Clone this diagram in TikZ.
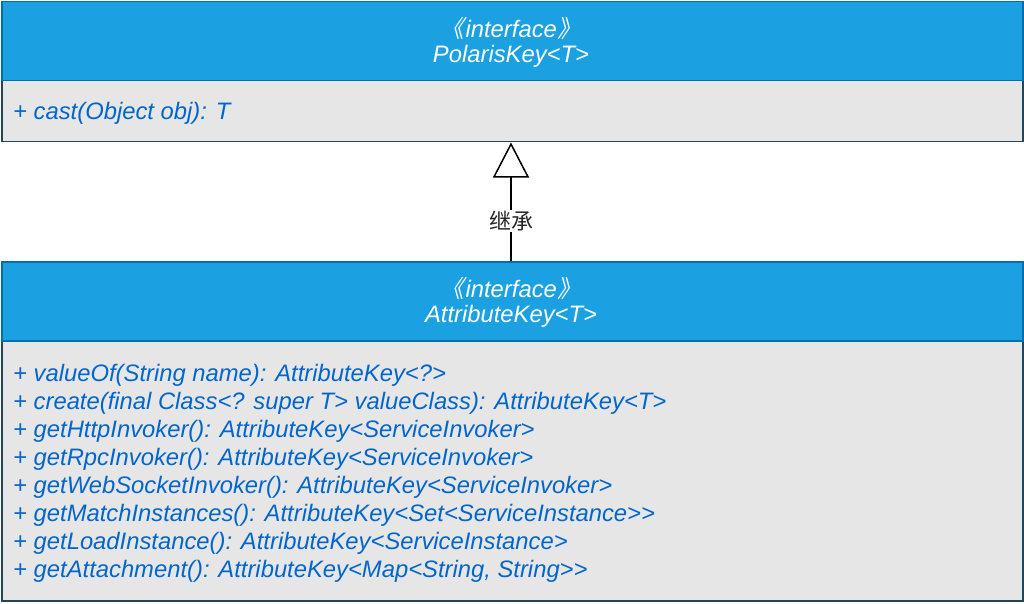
\documentclass[tikz,border=0pt]{standalone}
\usepackage{fontspec}
\setmainfont{Liberation Sans}
\newfontfamily\cjk{Noto Sans CJK SC}
\newfontfamily\cjkit[FakeSlant=0.2]{Noto Sans CJK SC}
\usetikzlibrary{arrows.meta}
\definecolor{hdrfill}{HTML}{1BA1E2}
\definecolor{hdrline}{HTML}{006EAF}
\definecolor{bodyfill}{HTML}{E6E6E6}
\definecolor{bodyline}{HTML}{23445D}
\definecolor{mcol}{HTML}{0066CC}
\tikzset{
  hdr/.style={draw=hdrline, fill=hdrfill, line width=1.5pt, inner sep=0pt, anchor=north west, minimum width=1021pt},
  body/.style={draw=bodyline, fill=bodyfill, line width=1.5pt, inner sep=0pt, anchor=north west, minimum width=1021pt},
  htext/.style={text=white, font=\itshape\fontsize{23.8}{28}\selectfont, inner sep=0pt},
  mtext/.style={text=mcol, font=\itshape\fontsize{23.8}{28}\selectfont, inner sep=0pt, anchor=base west},
  lbl/.style={fill=white, font=\cjk\fontsize{22}{26}\selectfont, inner sep=1pt, text=black!85},
  inherit/.style={line width=1.5pt, -{Triangle[open, length=35pt, width=36pt, line width=1.5pt]}}
}
\begin{document}
\begin{tikzpicture}[x=1pt,y=-1pt]
\useasboundingbox (0,0) rectangle (1024,604);
% top class
\node[body, minimum height=61pt] (pb) at (1,80) {};
\node[hdr, minimum height=79pt] (ph) at (1,1) {};
\node[htext] (pst) at (511,28) {{\cjkit 《}\kern1.5pt interface\kern1pt{\cjkit 》}};
\node[htext] (pname) at (511,56) {PolarisKey<T>};
\node[mtext] (pm1) at (13,120) {+ cast(Object obj): T};
% bottom class
\node[body, minimum height=260pt] (ab) at (1,340) {};
\node[hdr, minimum height=79pt] (ah) at (1,261) {};
\node[htext] (ast) at (511,288) {{\cjkit 《}\kern1.5pt interface\kern1pt{\cjkit 》}};
\node[htext] (aname) at (511,316) {AttributeKey<T>};
\node[mtext] (am1) at (13,381) {+ valueOf(String name): AttributeKey<?>};
\node[mtext] (am2) at (13,409) {+ create(final Class<? super T> valueClass): AttributeKey<T>};
\node[mtext] (am3) at (13,437) {+ getHttpInvoker(): AttributeKey<ServiceInvoker>};
\node[mtext] (am4) at (13,465) {+ getRpcInvoker(): AttributeKey<ServiceInvoker>};
\node[mtext] (am5) at (13,493) {+ getWebSocketInvoker(): AttributeKey<ServiceInvoker>};
\node[mtext] (am6) at (13,521) {+ getMatchInstances(): AttributeKey<Set<ServiceInstance>{}>};
\node[mtext] (am7) at (13,549) {+ getLoadInstance(): AttributeKey<ServiceInstance>};
\node[mtext] (am8) at (13,577) {+ getAttachment(): AttributeKey<Map<String, String>{}>};
% inheritance
\coordinate (src) at (511,261);
\coordinate (dst) at (511,142);
\draw[inherit] (ah.north -| src) -- (pb.south -| dst) node[lbl, pos=0.34] (lab) {继承};
\end{tikzpicture}
\end{document}
